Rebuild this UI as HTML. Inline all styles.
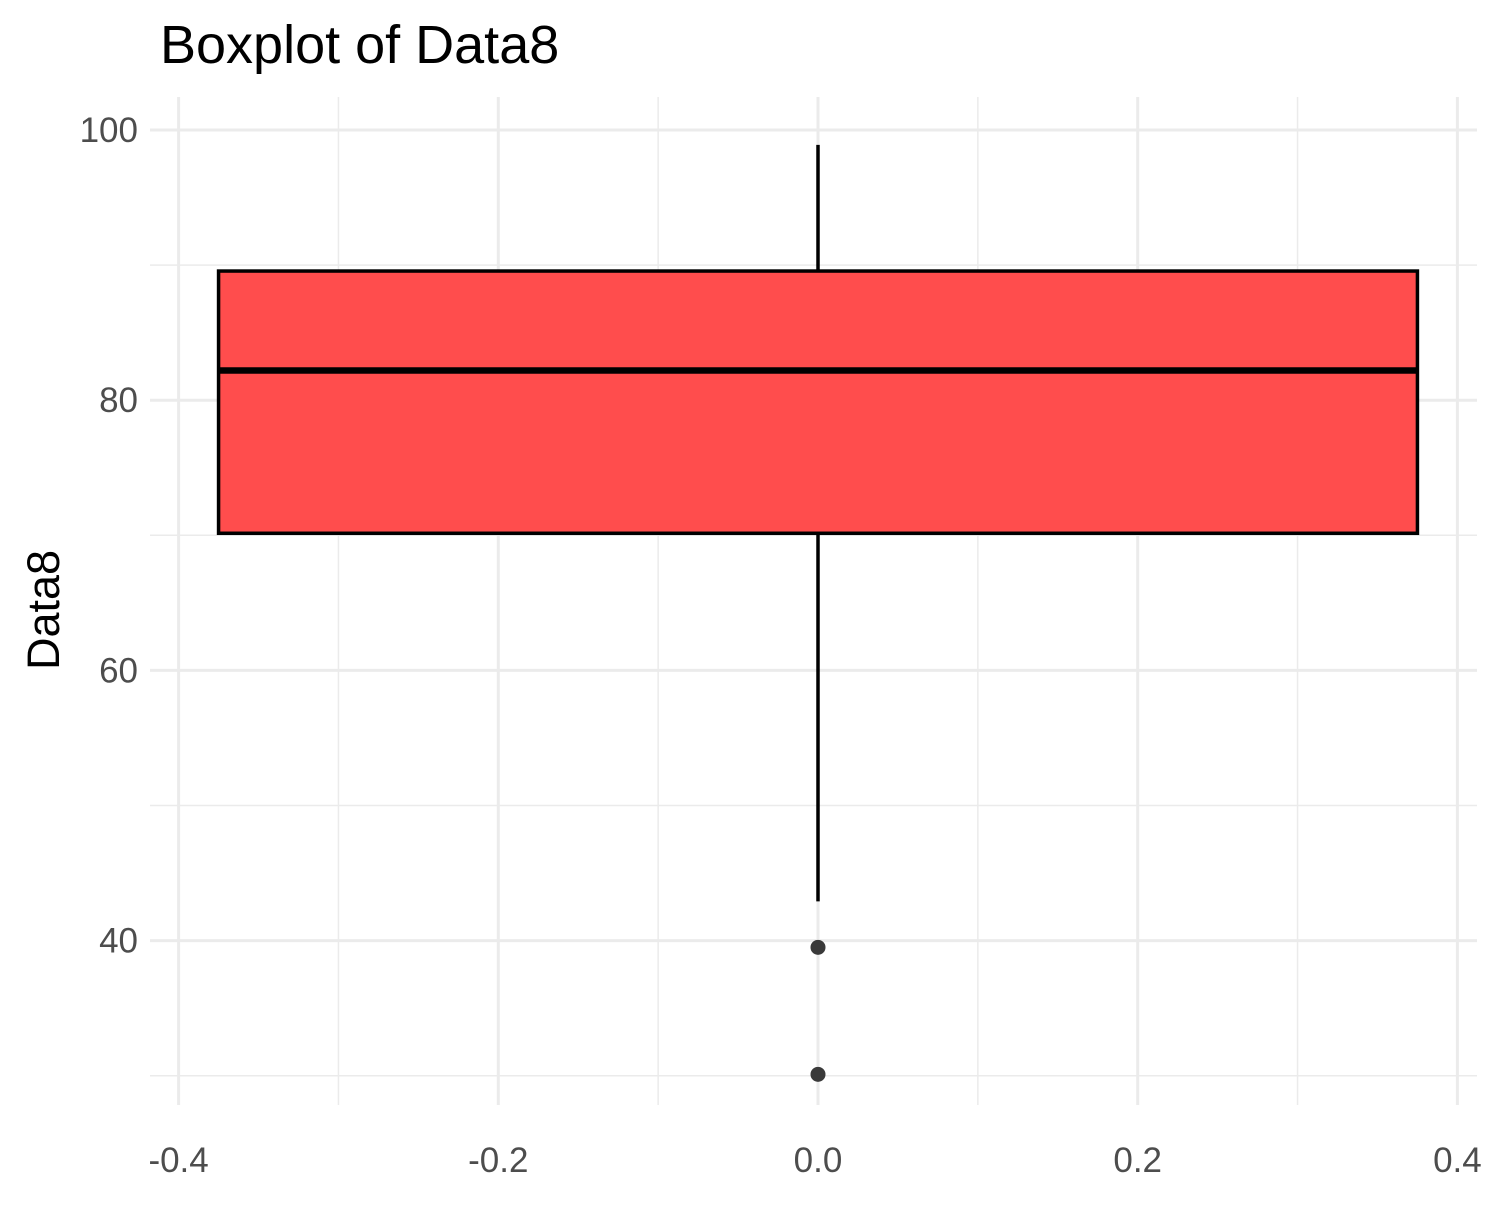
<!DOCTYPE html>
<html><head><meta charset="utf-8"><style>
body{margin:0;background:#fff;}
svg text{font-family:"Liberation Sans",Arial,sans-serif;}
</style></head><body>
<svg id="chart" width="1500" height="1200" xmlns="http://www.w3.org/2000/svg">
<text x="160" y="63" font-size="54" fill="#000">Boxplot of Data8</text>
<text transform="translate(59,610) rotate(-90)" text-anchor="middle" font-size="45" fill="#000">Data8</text>
<g id="grid"></g><g id="marks"></g><g id="labels"></g>
</svg>
<script>
const xTicks=[-0.4,-0.2,0.0,0.2,0.4];
const xTickLabels=["-0.4","-0.2","0.0","0.2","0.4"];
const yTicks=[40,60,80,100];
const yTickLabels=["40","60","80","100"];
const xMinor=[-0.3,-0.1,0.1,0.3];
const yMinor=[30,50,70,90];
const boxStats=[42.9,70.15,82.2,89.56,98.9]; // lower whisker, q1, median, q3, upper whisker
const boxX=[0];
const outliers=[39.5,30.1];
const boxHalfWidth=0.375;
const ns="http://www.w3.org/2000/svg";
const xs=v=>818+v*1598.5;
const ys=v=>130+(100-v)*13.51;
const L=150,R=1477,T=97,B=1105;
function mk(tag,attrs,parent){const e=document.createElementNS(ns,tag);for(const k in attrs)e.setAttribute(k,attrs[k]);document.getElementById(parent).appendChild(e);return e;}
xMinor.forEach(v=>{const e=mk('line',{x1:xs(v),x2:xs(v),y1:T,y2:B,stroke:'#ebebeb','stroke-width':1.5},'grid');

});
yMinor.forEach(v=>{const e=mk('line',{x1:L,x2:R,y1:ys(v),y2:ys(v),stroke:'#ebebeb','stroke-width':1.5},'grid');

});
xTicks.forEach((v,i)=>{const e=mk('line',{x1:xs(v),x2:xs(v),y1:T,y2:B,stroke:'#ebebeb','stroke-width':3},'grid');


const t=mk('text',{x:xs(v),y:1172,'text-anchor':'middle','font-size':35,fill:'#4d4d4d'},'labels');t.textContent=xTickLabels[i];

});
yTicks.forEach((v,i)=>{const e=mk('line',{x1:L,x2:R,y1:ys(v),y2:ys(v),stroke:'#ebebeb','stroke-width':3},'grid');


const t=mk('text',{x:138,y:ys(v)+12,'text-anchor':'end','font-size':35,fill:'#4d4d4d'},'labels');t.textContent=yTickLabels[i];

});
boxX.forEach(cx=>{
const w1=mk('line',{x1:xs(cx),x2:xs(cx),y1:ys(boxStats[3]),y2:ys(boxStats[4]),stroke:'#000','stroke-width':3.5},'marks');


const w2=mk('line',{x1:xs(cx),x2:xs(cx),y1:ys(boxStats[1]),y2:ys(boxStats[0]),stroke:'#000','stroke-width':3.5},'marks');


const r=mk('rect',{x:xs(cx-boxHalfWidth),y:ys(boxStats[3]),width:xs(cx+boxHalfWidth)-xs(cx-boxHalfWidth),height:ys(boxStats[1])-ys(boxStats[3]),fill:'#ff4d4d',stroke:'#000','stroke-width':3.5},'marks');


const m=mk('line',{x1:xs(cx-boxHalfWidth),x2:xs(cx+boxHalfWidth),y1:ys(boxStats[2]),y2:ys(boxStats[2]),stroke:'#000','stroke-width':6.5},'marks');


outliers.forEach(o=>{const c=mk('circle',{cx:xs(cx),cy:ys(o),r:7.5,fill:'#3a3a3a'},'marks');

});
});
</script>
</body></html>
